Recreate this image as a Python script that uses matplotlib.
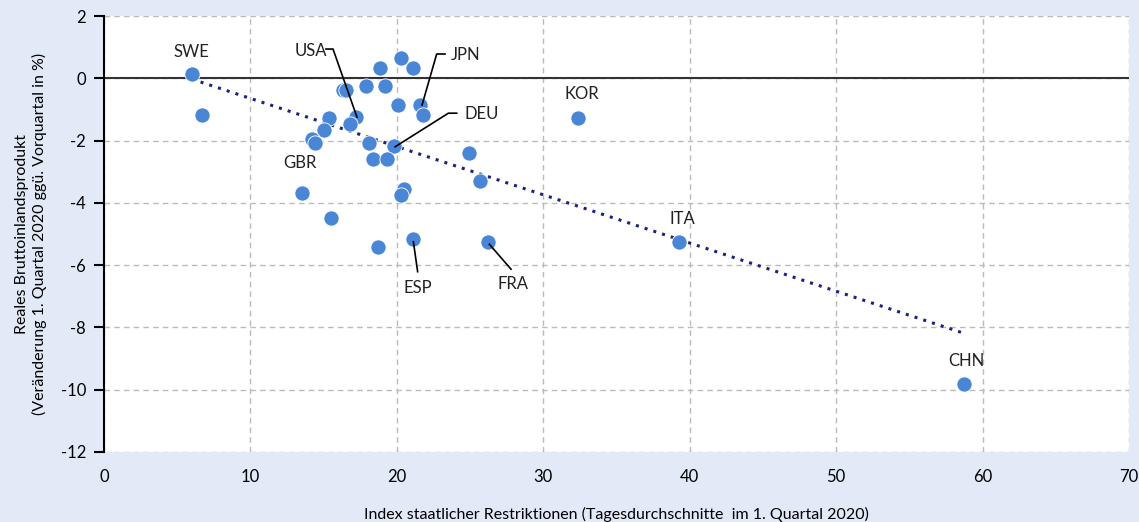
import numpy as np
import matplotlib.pyplot as plt

plt.rcParams['font.family'] = ['Lato', 'DejaVu Sans']
plt.rcParams['axes.unicode_minus'] = False

# restriction index (x) and GDP change in % (y)
restr = [6.0, 6.7, 20.3, 18.85, 21.1, 16.35, 16.5, 17.9, 19.2, 20.1, 21.6, 21.8,
         15.4, 17.2, 16.8, 15.0, 14.2, 14.4, 18.1, 19.8, 18.4, 19.3, 24.9, 25.7,
         20.5, 20.3, 13.5, 15.5, 18.7, 21.1, 26.2, 32.4, 39.3, 58.7]
gdp = [0.14, -1.18, 0.64, 0.32, 0.32, -0.38, -0.38, -0.25, -0.25, -0.86, -0.86, -1.19,
       -1.28, -1.23, -1.47, -1.66, -1.96, -2.07, -2.09, -2.17, -2.58, -2.58, -2.41, -3.29,
       -3.56, -3.76, -3.67, -4.48, -5.41, -5.17, -5.26, -1.28, -5.26, -9.82]

# country labels: name, text x, text y
label_names = ["SWE", "GBR", "KOR", "ITA", "CHN", "USA", "JPN", "DEU", "ESP", "FRA"]
label_x = [6.0, 13.4, 32.6, 39.5, 58.9, 14.1, 24.7, 25.8, 21.45, 27.9]
label_y = [0.86, -2.72, -0.5, -4.52, -9.08, 0.88, 0.76, -1.14, -6.72, -6.62]

# leader lines (x list, y list)
leaders = [
    ([15.16, 15.64, 17.28], [0.94, 0.94, -1.25]),   # USA
    ([23.29, 22.72, 21.72], [0.78, 0.78, -0.86]),   # JPN
    ([24.09, 23.52, 19.88], [-1.12, -1.12, -2.2]),  # DEU
    ([21.13, 21.42], [-5.25, -6.21]),               # ESP
    ([26.32, 27.8], [-5.33, -6.13]),                # FRA
]

bg = '#E3EAF7'
fig = plt.figure(figsize=(11.39, 5.22), dpi=100, facecolor=bg)
ax = fig.add_axes([0.0913, 0.1341, 0.8999, 0.8352])
ax.set_facecolor('white')

ax.set_xlim(0, 70)
ax.set_ylim(-12, 2)
ax.set_xticks(range(0, 71, 10))
ax.set_yticks(range(-12, 3, 2))
ax.grid(True, color='#BBBBBB', linestyle=(0, (4, 3)), linewidth=1)
ax.set_axisbelow(True)
for s in ['top', 'right', 'bottom']:
    ax.spines[s].set_visible(False)
ax.spines['left'].set_color('black')
ax.spines['left'].set_linewidth(1.5)
ax.tick_params(axis='y', length=7, width=1.5, color='black', labelsize=12, pad=6)
ax.tick_params(axis='x', length=0, labelsize=12, pad=12)
ax.axhline(0, color='#333333', linewidth=1.5, zorder=1)

# linear trend
coef = np.polyfit(restr, gdp, 1)
xt = np.array([min(restr), max(restr)])
ax.plot(xt, np.polyval(coef, xt), linestyle=(0, (1, 2)), color='#1A237E',
        linewidth=2.2, zorder=2)

ax.scatter(restr, gdp, s=120, color='#4A86D6', edgecolor='white', linewidth=0.6, zorder=3)

for lx, ly in leaders:
    ax.plot(lx, ly, color='black', lw=1.2, zorder=4)

for name, tx, ty in zip(label_names, label_x, label_y):
    ax.text(tx, ty, name, ha='center', va='center', fontsize=12, color='#222222')

ax.set_xlabel('Index staatlicher Restriktionen (Tagesdurchschnitte  im 1. Quartal 2020)',
              fontsize=11.5, labelpad=16)
ax.set_ylabel('Reales Bruttoinlandsprodukt\n(Veränderung 1. Quartal 2020 ggü. Vorquartal in %)',
              fontsize=11.5, labelpad=10)

fig.savefig('out.png', dpi=100, facecolor=bg)
